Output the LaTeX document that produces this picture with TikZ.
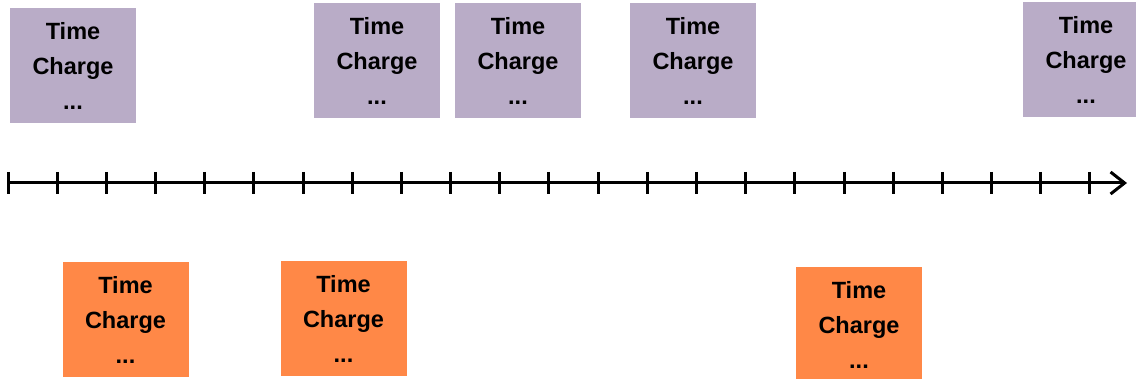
\documentclass[tikz,border=0pt]{standalone}
\usepackage{fontspec}
\setmainfont{Liberation Sans}
\usetikzlibrary{arrows.meta,calc}
\definecolor{boxpurple}{RGB}{185,172,199}
\definecolor{boxorange}{RGB}{255,136,71}
\begin{document}
\begin{tikzpicture}[x=1pt,y=-1pt,
  tbox/.style={minimum width=126pt,minimum height=115pt,inner sep=0pt,align=center,
    font=\fontsize{23.5pt}{35pt}\selectfont\bfseries},
  purplebox/.style={tbox,fill=boxpurple},
  orangebox/.style={tbox,fill=boxorange},
  axis/.style={line width=3pt,-{Straight Barb[length=14pt,width=22pt,line width=3pt]}},
  tick/.style={line width=3pt}]
\useasboundingbox (0,0) rectangle (1136,379);
% top boxes
\node[purplebox] (p1) at (73,65.5) {Time\\Charge\\...};
\node[purplebox] (p2) at (377,60.5) {Time\\Charge\\...};
\node[purplebox] (p3) at (518,60.5) {Time\\Charge\\...};
\node[purplebox] (p4) at (693,60.5) {Time\\Charge\\...};
\node[purplebox] (p5) at (1086,59.5) {Time\\Charge\\...};
% bottom boxes
\node[orangebox] (o1) at (125.5,319.5) {Time\\Charge\\...};
\node[orangebox] (o2) at (343.5,318.5) {Time\\Charge\\...};
\node[orangebox] (o3) at (859,324.5) {Time\\Charge\\...};
% axis
\coordinate (axstart) at (8,183);
\coordinate (axend) at (1127,183);
\draw[axis] (axstart) -- (axend);
\foreach \i in {0,...,22}{
  \draw[tick] ($(axstart)+(\i*49.18,-11)$) -- ++(0,22);
}
\end{tikzpicture}
\end{document}
